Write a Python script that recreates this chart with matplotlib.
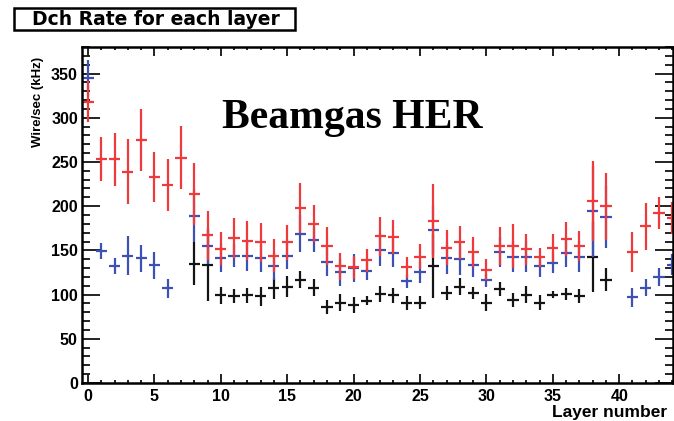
import numpy as np
import matplotlib
matplotlib.use("Agg")
import matplotlib.pyplot as plt
from matplotlib.ticker import MultipleLocator
from matplotlib.patches import Rectangle

nan = np.nan
layers = np.arange(45)

red_rate = [318, 253, 253, 239, 275, 233, 224, 255, 214, 167,
            152, 164, 161, 159, 144, 159, 198, 180, 155, 132,
            131, 139, 166, 165, 131, 143, 183, 153, 159, 148,
            128, 155, 155, 151, 142, 153, 163, 155, 206, 200,
            nan, 148, 177, 192, 187]
red_err = [23, 25, 30, 37, 35, 28, 29, 36, 35, 28,
           19, 23, 22, 22, 19, 20, 28, 21, 21, 15,
           13, 13, 22, 19, 12, 14, 42, 20, 19, 17,
           12, 21, 25, 17, 11, 16, 19, 17, 45, 38,
           nan, 23, 27, 18, 18]

blue_rate = [345, 149, 132, 144, 141, 133, 107, nan, 189, 155,
             141, 144, 144, 141, 132, 144, 169, 162, 137, 125,
             130, 127, 150, 147, 115, 125, 173, 141, 140, 133,
             116, 148, 143, 143, 132, 136, 147, 143, 194, 188,
             nan, 97, 108, 120, 134]
blue_err = [20, 9, 9, 22, 15, 15, 11, nan, 30, 20,
            16, 13, 17, 15, 15, 15, 21, 14, 16, 15,
            16, 10, 18, 16, 7, 12, 28, 18, 18, 13,
            7, 17, 18, 18, 12, 12, 16, 18, 51, 35,
            nan, 11, 10, 10, 12]

black_rate = [nan, nan, nan, nan, nan, nan, nan, nan, 135, 133,
              99, 98, 99, 98, 107, 109, 117, 108, 86, 91,
              88, 93, 101, 99, 90, 91, 132, 102, 109, 102,
              91, 106, 94, 100, 91, 100, 101, 98, 143, 117,
              nan, nan, nan, nan, nan]
black_err = [nan, nan, nan, nan, nan, nan, nan, nan, 24, 40,
             10, 8, 9, 11, 12, 12, 10, 10, 8, 10,
             9, 5, 9, 9, 8, 7, 36, 8, 10, 7,
             10, 8, 8, 10, 8, 4, 7, 8, 40, 13,
             nan, nan, nan, nan, nan]

x_ticks = [0, 5, 10, 15, 20, 25, 30, 35, 40]
y_ticks = [0, 50, 100, 150, 200, 250, 300, 350]

W, H = 674, 421
fig = plt.figure(figsize=(W/100, H/100), dpi=100)
ax = fig.add_axes([82/W, 38/H, (673-82)/W, (383-47)/H])

series = [
    (black_rate, black_err, "#141414"),
    (blue_rate, blue_err, "#3d50b4"),
    (red_rate, red_err, "#ee3a3a"),
]
for vals, errs, col in series:
    ax.errorbar(layers, vals, yerr=errs, xerr=0.42, fmt="none",
                ecolor=col, elinewidth=1.6, capsize=0)

ax.set_xlim(-0.45, 44.05)
ax.set_ylim(0, 380)
ax.set_xticks(x_ticks)
ax.set_yticks(y_ticks)
ax.xaxis.set_minor_locator(MultipleLocator(1))
ax.yaxis.set_minor_locator(MultipleLocator(10))
ax.tick_params(axis="both", which="both", direction="in", top=True, right=True,
               width=1.4, color="#222222")
ax.tick_params(axis="y", which="major", length=13, labelsize=11.5, pad=3)
ax.tick_params(axis="y", which="minor", length=6)
ax.tick_params(axis="x", which="major", length=6.5, labelsize=11.5, pad=4)
ax.tick_params(axis="x", which="minor", length=2.5)
for lab in ax.get_xticklabels() + ax.get_yticklabels():
    lab.set_fontweight("bold")
    lab.set_family("Liberation Sans")
for sp in ax.spines.values():
    sp.set_linewidth(1.8)

fig.text(38/W, 1 - 57/H, "Wire/sec (kHz)", rotation=90, ha="center", va="top",
         fontsize=9.5, fontweight="bold", family="Liberation Sans")
fig.text(552/W, 1 - 412/H, "Layer number", ha="left", va="center",
         fontsize=12.5, fontweight="bold", family="Liberation Sans")

fig.text(352/W, 1 - 118/H, "Beamgas HER", ha="center", va="center",
         fontsize=30, fontweight="bold", family="Liberation Serif")

fig.patches.append(Rectangle((14/W, 1 - 30/H), (295-14)/W, 22/H,
                             transform=fig.transFigure, fc="white", ec="black",
                             lw=1.8))
fig.text(156/W, 1 - 19.5/H, "Dch Rate for each layer", ha="center", va="center",
         fontsize=13.5, fontweight="bold", family="DejaVu Sans")

fig.savefig("out.png", dpi=100)
